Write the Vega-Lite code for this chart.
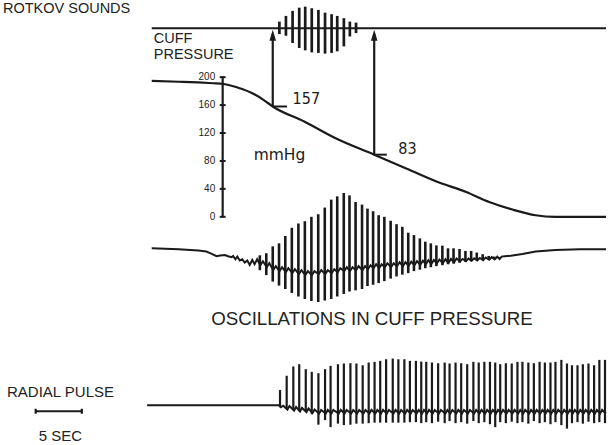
{
  "$schema": "https://vega.github.io/schema/vega-lite/v6.json",
  "width": 611,
  "height": 445,
  "padding": 0,
  "autosize": {"type": "fit", "contains": "padding"},
  "background": "white",
  "config": {"view": {"stroke": null}},
  "datasets": {
    "cuff": [
      {"t": 0.32, "v": 194.6}, {"t": 3.23, "v": 193.4}, {"t": 5.38, "v": 192.4}, {"t": 6.99, "v": 191.3},
      {"t": 7.99, "v": 190.6}, {"t": 9.68, "v": 184.9}, {"t": 11.11, "v": 177.8}, {"t": 12.55, "v": 166.5},
      {"t": 13.44, "v": 158}, {"t": 16.85, "v": 136.5}, {"t": 20.43, "v": 111.4}, {"t": 24.44, "v": 89},
      {"t": 27.6, "v": 71.1}, {"t": 31.18, "v": 50.6}, {"t": 34.41, "v": 35.5}, {"t": 36.91, "v": 21.3},
      {"t": 39.43, "v": 10.4}, {"t": 41.94, "v": 2.2}, {"t": 44.09, "v": 0}, {"t": 49.57, "v": 0}
    ],
    "hlines": [
      {"t": 0.32, "t2": 49.57, "v": 270},
      {"t": 13.44, "t2": 14.98, "v": 158},
      {"t": 24.44, "t2": 25.81, "v": 89},
      {"t": 7.69, "t2": 8.33, "v": 0},
      {"t": 7.69, "t2": 8.33, "v": 40},
      {"t": 7.69, "t2": 8.33, "v": 80},
      {"t": 7.69, "t2": 8.33, "v": 120},
      {"t": 7.69, "t2": 8.33, "v": 160},
      {"t": 7.69, "t2": 8.33, "v": 200},
      {"t": -12.26, "t2": -7.26, "v": -278.4}
    ],
    "vlines": [
      {"t": 13.44, "v": 158, "v2": 262},
      {"t": 24.44, "v": 89, "v2": 262},
      {"t": 8.01, "v": -0.7, "v2": 200.7},
      {"t": -12.26, "v": -274.9, "v2": -282.0},
      {"t": -7.26, "v": -274.9, "v2": -282.0}
    ],
    "heads": [{"t": 13.44, "v": 260}, {"t": 24.44, "v": 260}],
    "sounds": [
      {"t": 14.16, "v": 279.6, "v2": 261.7}, {"t": 14.87, "v": 287.7, "v2": 259.3},
      {"t": 15.59, "v": 294.9, "v2": 248.9}, {"t": 16.31, "v": 299.5, "v2": 241.8},
      {"t": 16.96, "v": 301.0, "v2": 238.4}, {"t": 17.67, "v": 298.7, "v2": 235.5},
      {"t": 18.39, "v": 296.3, "v2": 234.7}, {"t": 19.11, "v": 292.4, "v2": 233.7},
      {"t": 19.82, "v": 290.2, "v2": 234.7}, {"t": 20.43, "v": 287.7, "v2": 237.0},
      {"t": 21.15, "v": 284.5, "v2": 244.1}, {"t": 21.80, "v": 279.6, "v2": 258.3},
      {"t": 22.47, "v": 278.2, "v2": 263.1}
    ],
    "osc": [
      {"t": 12.04, "v": -55.1, "v2": -76.4}, {"t": 12.74, "v": -52.2, "v2": -83.5},
      {"t": 13.44, "v": -42.3, "v2": -92.8}, {"t": 14.12, "v": -38.0, "v2": -98.5},
      {"t": 14.80, "v": -27.4, "v2": -103.4}, {"t": 15.51, "v": -15.7, "v2": -109.1},
      {"t": 16.22, "v": -9.6, "v2": -114.1}, {"t": 16.92, "v": -6.3, "v2": -117.7},
      {"t": 17.63, "v": 0.0, "v2": -120.6}, {"t": 18.37, "v": 3.7, "v2": -122.0},
      {"t": 19.08, "v": 13.2, "v2": -119.9}, {"t": 19.78, "v": 24.6, "v2": -117.7},
      {"t": 20.43, "v": 29.3, "v2": -114.1}, {"t": 21.14, "v": 34.1, "v2": -110.5},
      {"t": 21.76, "v": 30.7, "v2": -106.9}, {"t": 22.42, "v": 21.3, "v2": -105.3},
      {"t": 23.12, "v": 17.5, "v2": -103.4}, {"t": 23.71, "v": 11.8, "v2": -99.2},
      {"t": 24.32, "v": 8.0, "v2": -97.3}, {"t": 24.92, "v": 2.3, "v2": -94.9},
      {"t": 25.54, "v": 0.0, "v2": -92.1}, {"t": 26.22, "v": -5.7, "v2": -88.5},
      {"t": 26.86, "v": -10.6, "v2": -85.4}, {"t": 27.49, "v": -14.3, "v2": -82.8},
      {"t": 28.13, "v": -22.8, "v2": -80.7}, {"t": 28.75, "v": -26.2, "v2": -77.8},
      {"t": 29.39, "v": -30.9, "v2": -75.7}, {"t": 29.98, "v": -35.6, "v2": -73.6},
      {"t": 30.58, "v": -38.0, "v2": -72.2}, {"t": 31.18, "v": -40.9, "v2": -70.7},
      {"t": 31.83, "v": -41.3, "v2": -69.3}, {"t": 32.44, "v": -45.1, "v2": -67.9},
      {"t": 33.04, "v": -45.1, "v2": -66.9}, {"t": 33.69, "v": -46.1, "v2": -65.8},
      {"t": 34.33, "v": -48.9, "v2": -64.4}, {"t": 34.95, "v": -48.9, "v2": -63.7},
      {"t": 35.56, "v": -51.2, "v2": -62.7}, {"t": 36.20, "v": -53.6, "v2": -61.8},
      {"t": 36.85, "v": -56.0, "v2": -60.8}, {"t": 37.45, "v": -56.9, "v2": -60.5},
      {"t": 37.99, "v": -57.9, "v2": -60.1}
    ],
    "oscBase": [
      {"t": 0.32, "v": -45.1}, {"t": 3.23, "v": -46.3}, {"t": 5.38, "v": -48.4}, {"t": 6.24, "v": -49.8},
      {"t": 6.77, "v": -52.6}, {"t": 7.34, "v": -56.5}, {"t": 7.74, "v": -55.3}, {"t": 8.25, "v": -54.7},
      {"t": 8.60, "v": -56.5}, {"t": 8.96, "v": -57.9}, {"t": 9.14, "v": -56.1}, {"t": 9.39, "v": -60.8},
      {"t": 9.60, "v": -56.9}, {"t": 9.86, "v": -62.6}, {"t": 10.14, "v": -60.8}, {"t": 10.40, "v": -65.5},
      {"t": 10.68, "v": -62.6}, {"t": 10.94, "v": -68.9}, {"t": 11.22, "v": -61.8}, {"t": 11.47, "v": -67.9},
      {"t": 11.75, "v": -60.8},
      {"t": 12.09, "v": -69.3}, {"t": 12.37, "v": -63.6}, {"t": 12.79, "v": -72.1}, {"t": 13.07, "v": -66.5},
      {"t": 13.49, "v": -76.4}, {"t": 13.77, "v": -70.7}, {"t": 14.17, "v": -77.8}, {"t": 14.45, "v": -72.1},
      {"t": 14.85, "v": -79.3}, {"t": 15.13, "v": -73.6}, {"t": 15.56, "v": -80.7}, {"t": 15.84, "v": -75.0},
      {"t": 16.27, "v": -82.1}, {"t": 16.55, "v": -76.4}, {"t": 16.97, "v": -83.5}, {"t": 17.25, "v": -77.8},
      {"t": 17.68, "v": -83.5}, {"t": 17.96, "v": -77.8}, {"t": 18.42, "v": -82.1}, {"t": 18.70, "v": -76.4},
      {"t": 19.13, "v": -82.1}, {"t": 19.41, "v": -76.4}, {"t": 19.83, "v": -80.7}, {"t": 20.11, "v": -75.0},
      {"t": 20.48, "v": -79.3}, {"t": 20.76, "v": -73.6}, {"t": 21.19, "v": -77.8}, {"t": 21.47, "v": -72.1},
      {"t": 21.81, "v": -77.8}, {"t": 22.09, "v": -72.1}, {"t": 22.47, "v": -76.4}, {"t": 22.75, "v": -70.7},
      {"t": 23.17, "v": -76.4}, {"t": 23.45, "v": -70.7}, {"t": 23.76, "v": -75.0}, {"t": 24.04, "v": -69.3},
      {"t": 24.37, "v": -73.6}, {"t": 24.65, "v": -67.9}, {"t": 24.97, "v": -73.6}, {"t": 25.25, "v": -67.9},
      {"t": 25.59, "v": -72.1}, {"t": 25.87, "v": -66.5}, {"t": 26.27, "v": -72.1}, {"t": 26.55, "v": -66.5},
      {"t": 26.91, "v": -70.7}, {"t": 27.19, "v": -65.0}, {"t": 27.54, "v": -70.7}, {"t": 27.82, "v": -65.0},
      {"t": 28.18, "v": -70.0}, {"t": 28.46, "v": -64.3}, {"t": 28.80, "v": -69.3}, {"t": 29.08, "v": -63.6},
      {"t": 29.44, "v": -68.6}, {"t": 29.72, "v": -62.9}, {"t": 30.03, "v": -67.9}, {"t": 30.31, "v": -62.2},
      {"t": 30.63, "v": -67.5}, {"t": 30.91, "v": -61.8}, {"t": 31.23, "v": -66.9}, {"t": 31.51, "v": -61.2},
      {"t": 31.88, "v": -66.5}, {"t": 32.16, "v": -60.8}, {"t": 32.49, "v": -65.9}, {"t": 32.77, "v": -60.2},
      {"t": 33.09, "v": -65.5}, {"t": 33.37, "v": -59.8}, {"t": 33.74, "v": -64.0}, {"t": 34.02, "v": -60.3},
      {"t": 34.38, "v": -63.5}, {"t": 34.66, "v": -59.8}, {"t": 35.00, "v": -63.0}, {"t": 35.28, "v": -59.4},
      {"t": 35.61, "v": -62.6}, {"t": 35.89, "v": -58.9}, {"t": 36.25, "v": -62.0}, {"t": 36.53, "v": -58.3},
      {"t": 36.90, "v": -61.5}, {"t": 37.18, "v": -57.8}, {"t": 37.50, "v": -60.9}, {"t": 37.78, "v": -57.2},
      {"t": 38.04, "v": -60.5}, {"t": 38.25, "v": -57.0},
      {"t": 38.6, "v": -56.6}, {"t": 39.25, "v": -55.8}, {"t": 40.51, "v": -53.2}, {"t": 41.94, "v": -49.8},
      {"t": 44.09, "v": -47.5}, {"t": 46.77, "v": -46.5}, {"t": 49.57, "v": -46.5}
    ],
    "radial": [
      {"t": 14.23, "v": -248.1, "v2": -271.3}, {"t": 14.95, "v": -227.6, "v2": -274.1},
      {"t": 15.67, "v": -214.4, "v2": -275.6}, {"t": 16.31, "v": -211.1, "v2": -277.0},
      {"t": 17.02, "v": -218.2, "v2": -278.4}, {"t": 17.67, "v": -222.0, "v2": -282.7},
      {"t": 18.39, "v": -223.9, "v2": -297.7}, {"t": 19.11, "v": -218.2, "v2": -291.2},
      {"t": 19.71, "v": -213.4, "v2": -301.2}, {"t": 20.51, "v": -211.1, "v2": -296.2},
      {"t": 21.15, "v": -210.1, "v2": -298.4}, {"t": 21.86, "v": -209.7, "v2": -297.7},
      {"t": 22.51, "v": -210.1, "v2": -296.2}, {"t": 23.19, "v": -212.6, "v2": -296.2},
      {"t": 23.84, "v": -208.7, "v2": -295.5}, {"t": 24.48, "v": -207.7, "v2": -294.8},
      {"t": 25.09, "v": -206.3, "v2": -294.8}, {"t": 25.73, "v": -204.0, "v2": -294.8},
      {"t": 26.45, "v": -203.0, "v2": -294.8}, {"t": 27.06, "v": -204.0, "v2": -294.8},
      {"t": 27.71, "v": -204.0, "v2": -294.8}, {"t": 28.31, "v": -206.3, "v2": -294.1},
      {"t": 28.96, "v": -206.3, "v2": -294.1}, {"t": 29.54, "v": -207.3, "v2": -295.5},
      {"t": 30.08, "v": -207.7, "v2": -294.1}, {"t": 30.70, "v": -208.7, "v2": -295.5},
      {"t": 31.37, "v": -209.7, "v2": -293.4}, {"t": 32.08, "v": -208.7, "v2": -295.5},
      {"t": 32.61, "v": -210.1, "v2": -292.6}, {"t": 33.26, "v": -208.7, "v2": -295.5},
      {"t": 33.87, "v": -209.7, "v2": -294.1}, {"t": 34.52, "v": -211.1, "v2": -296.2},
      {"t": 35.19, "v": -207.7, "v2": -292.6}, {"t": 35.77, "v": -208.7, "v2": -295.5},
      {"t": 36.38, "v": -207.7, "v2": -294.1}, {"t": 36.99, "v": -207.7, "v2": -297.0},
      {"t": 37.56, "v": -208.7, "v2": -301.2}, {"t": 38.10, "v": -211.1, "v2": -294.1},
      {"t": 38.71, "v": -209.7, "v2": -295.5}, {"t": 39.35, "v": -210.1, "v2": -293.4},
      {"t": 39.97, "v": -207.7, "v2": -295.5}, {"t": 40.51, "v": -207.7, "v2": -294.1},
      {"t": 41.15, "v": -208.7, "v2": -296.2}, {"t": 41.75, "v": -209.7, "v2": -292.6},
      {"t": 42.37, "v": -207.7, "v2": -295.5}, {"t": 42.94, "v": -208.7, "v2": -294.1},
      {"t": 43.55, "v": -208.7, "v2": -297.0}, {"t": 44.09, "v": -207.7, "v2": -294.1},
      {"t": 44.73, "v": -204.9, "v2": -298.4}, {"t": 45.34, "v": -210.1, "v2": -303.3},
      {"t": 45.88, "v": -212.6, "v2": -295.5}, {"t": 46.48, "v": -212.6, "v2": -294.1},
      {"t": 47.06, "v": -211.1, "v2": -296.2}, {"t": 47.67, "v": -210.1, "v2": -293.4},
      {"t": 48.28, "v": -212.6, "v2": -295.5}, {"t": 48.85, "v": -204.9, "v2": -294.1},
      {"t": 49.46, "v": -204.9, "v2": -295.5}
    ],
    "radialBase": [
      {"t": -0.18, "v": -269.9}, {"t": 14.09, "v": -269.9},
      {"t": 14.31, "v": -272.7}, {"t": 14.58, "v": -270.6}, {"t": 15.03, "v": -276.1}, {"t": 15.25, "v": -271.0},
      {"t": 15.75, "v": -277.5}, {"t": 15.97, "v": -272.4}, {"t": 16.39, "v": -278.8}, {"t": 16.61, "v": -273.7},
      {"t": 17.10, "v": -279.6}, {"t": 17.32, "v": -274.5}, {"t": 17.75, "v": -281.0}, {"t": 17.97, "v": -275.9},
      {"t": 18.47, "v": -281.7}, {"t": 18.69, "v": -276.6}, {"t": 19.19, "v": -281.7}, {"t": 19.41, "v": -276.6},
      {"t": 19.79, "v": -281.7}, {"t": 20.01, "v": -276.6}, {"t": 20.59, "v": -281.7}, {"t": 20.81, "v": -276.6},
      {"t": 21.23, "v": -281.7}, {"t": 21.45, "v": -276.6}, {"t": 21.94, "v": -281.7}, {"t": 22.16, "v": -276.6},
      {"t": 22.59, "v": -281.7}, {"t": 22.81, "v": -276.6}, {"t": 23.27, "v": -281.7}, {"t": 23.49, "v": -276.6},
      {"t": 23.92, "v": -281.7}, {"t": 24.14, "v": -276.6}, {"t": 24.56, "v": -281.7}, {"t": 24.78, "v": -276.6},
      {"t": 25.17, "v": -281.7}, {"t": 25.39, "v": -276.6}, {"t": 25.81, "v": -281.7}, {"t": 26.03, "v": -276.6},
      {"t": 26.53, "v": -281.7}, {"t": 26.75, "v": -276.6}, {"t": 27.14, "v": -281.7}, {"t": 27.36, "v": -276.6},
      {"t": 27.79, "v": -281.7}, {"t": 28.01, "v": -276.6}, {"t": 28.39, "v": -281.7}, {"t": 28.61, "v": -276.6},
      {"t": 29.04, "v": -281.7}, {"t": 29.26, "v": -276.6}, {"t": 29.62, "v": -281.7}, {"t": 29.84, "v": -276.6},
      {"t": 30.16, "v": -281.7}, {"t": 30.38, "v": -276.6}, {"t": 30.78, "v": -281.7}, {"t": 31.00, "v": -276.6},
      {"t": 31.45, "v": -281.7}, {"t": 31.67, "v": -276.6}, {"t": 32.16, "v": -281.7}, {"t": 32.38, "v": -276.6},
      {"t": 32.69, "v": -281.7}, {"t": 32.91, "v": -276.6}, {"t": 33.34, "v": -281.7}, {"t": 33.56, "v": -276.6},
      {"t": 33.95, "v": -281.7}, {"t": 34.17, "v": -276.6}, {"t": 34.60, "v": -281.7}, {"t": 34.82, "v": -276.6},
      {"t": 35.27, "v": -281.7}, {"t": 35.49, "v": -276.6}, {"t": 35.85, "v": -281.7}, {"t": 36.07, "v": -276.6},
      {"t": 36.46, "v": -281.7}, {"t": 36.68, "v": -276.6}, {"t": 37.07, "v": -281.7}, {"t": 37.29, "v": -276.6},
      {"t": 37.64, "v": -281.7}, {"t": 37.86, "v": -276.6}, {"t": 38.18, "v": -281.7}, {"t": 38.40, "v": -276.6},
      {"t": 38.79, "v": -281.7}, {"t": 39.01, "v": -276.6}, {"t": 39.43, "v": -281.7}, {"t": 39.65, "v": -276.6},
      {"t": 40.05, "v": -281.7}, {"t": 40.27, "v": -276.6}, {"t": 40.59, "v": -281.7}, {"t": 40.81, "v": -276.6},
      {"t": 41.23, "v": -281.7}, {"t": 41.45, "v": -276.6}, {"t": 41.83, "v": -281.7}, {"t": 42.05, "v": -276.6},
      {"t": 42.45, "v": -281.7}, {"t": 42.67, "v": -276.6}, {"t": 43.02, "v": -281.7}, {"t": 43.24, "v": -276.6},
      {"t": 43.63, "v": -281.7}, {"t": 43.85, "v": -276.6}, {"t": 44.17, "v": -281.7}, {"t": 44.39, "v": -276.6},
      {"t": 44.81, "v": -281.7}, {"t": 45.03, "v": -276.6}, {"t": 45.42, "v": -281.7}, {"t": 45.64, "v": -276.6},
      {"t": 45.96, "v": -281.7}, {"t": 46.18, "v": -276.6}, {"t": 46.56, "v": -281.7}, {"t": 46.78, "v": -276.6},
      {"t": 47.14, "v": -281.7}, {"t": 47.36, "v": -276.6}, {"t": 47.75, "v": -281.7}, {"t": 47.97, "v": -276.6},
      {"t": 48.36, "v": -281.7}, {"t": 48.58, "v": -276.6}, {"t": 48.93, "v": -281.7}, {"t": 49.15, "v": -276.6},
      {"t": 49.54, "v": -281.7}
    ],
    "labelsLeft": [
      {"t": -15.81, "v": 297.4, "label": "ROTKOV SOUNDS"},
      {"t": 0.54, "v": 254.3, "label": "CUFF"},
      {"t": 0.54, "v": 232.3, "label": "PRESSURE"}
    ],
    "labelsCenter": [
      {"t": -9.57, "v": -251.4, "label": "RADIAL PULSE"},
      {"t": -9.57, "v": -314.4, "label": "5 SEC"}
    ],
    "readings": [
      {"t": 15.59, "v": 168.7, "label": "157"},
      {"t": 27.06, "v": 97.1, "label": "83"}
    ],
    "ticks": [
      {"t": 7.2, "v": 0, "label": "0"},
      {"t": 7.2, "v": 40, "label": "40"},
      {"t": 7.2, "v": 80, "label": "80"},
      {"t": 7.2, "v": 120, "label": "120"},
      {"t": 7.2, "v": 160, "label": "160"},
      {"t": 7.2, "v": 200, "label": "200"}
    ]
  },
  "encoding": {
    "x": {"field": "t", "type": "quantitative", "scale": {"domain": [-16.13, 49.57], "nice": false, "zero": false}, "axis": null},
    "y": {"field": "v", "type": "quantitative", "scale": {"domain": [-322.5, 310.5], "nice": false, "zero": false}, "axis": null}
  },
  "layer": [
    {
      "data": {"name": "hlines"},
      "mark": {"type": "rule", "color": "#1a1a1a", "strokeWidth": 2},
      "encoding": {"x2": {"field": "t2"}}
    },
    {
      "data": {"name": "vlines"},
      "mark": {"type": "rule", "color": "#1a1a1a", "strokeWidth": 2.2},
      "encoding": {"y2": {"field": "v2"}}
    },
    {
      "data": {"name": "heads"},
      "mark": {"type": "point", "shape": "M0,-1L-0.6,1L0.6,1Z", "size": 121, "filled": true, "color": "#1a1a1a", "opacity": 1}
    },
    {
      "data": {"name": "sounds"},
      "mark": {"type": "rule", "color": "#1a1a1a", "strokeWidth": 2.7},
      "encoding": {"y2": {"field": "v2"}}
    },
    {
      "data": {"name": "cuff"},
      "mark": {"type": "line", "color": "#1a1a1a", "strokeWidth": 2.2, "interpolate": "monotone"}
    },
    {
      "data": {"name": "oscBase"},
      "mark": {"type": "line", "color": "#1a1a1a", "strokeWidth": 2}
    },
    {
      "data": {"name": "osc"},
      "mark": {"type": "rule", "color": "#1a1a1a", "strokeWidth": 2.6},
      "encoding": {"y2": {"field": "v2"}}
    },
    {
      "data": {"name": "radialBase"},
      "mark": {"type": "line", "color": "#1a1a1a", "strokeWidth": 2}
    },
    {
      "data": {"name": "radial"},
      "mark": {"type": "rule", "color": "#1a1a1a", "strokeWidth": 2.2},
      "encoding": {"y2": {"field": "v2"}}
    },
    {
      "data": {"name": "labelsLeft"},
      "mark": {"type": "text", "align": "left", "baseline": "middle", "font": "Liberation Sans", "fontSize": 14.5, "color": "#222"},
      "encoding": {"text": {"field": "label"}}
    },
    {
      "data": {"name": "labelsCenter"},
      "mark": {"type": "text", "align": "center", "baseline": "middle", "font": "Liberation Sans", "fontSize": 15, "color": "#222"},
      "encoding": {"text": {"field": "label"}}
    },
    {
      "data": {"values": [{"t": 24.19, "v": -146.1, "label": "OSCILLATIONS IN CUFF PRESSURE"}]},
      "mark": {"type": "text", "align": "center", "baseline": "middle", "font": "Liberation Sans", "fontSize": 18.7, "color": "#222"},
      "encoding": {"text": {"field": "label"}}
    },
    {
      "data": {"values": [{"t": 11.37, "v": 89.0, "label": "mmHg"}]},
      "mark": {"type": "text", "align": "left", "baseline": "middle", "font": "DejaVu Sans", "fontSize": 15.5, "color": "#1a1a1a"},
      "encoding": {"text": {"field": "label"}}
    },
    {
      "data": {"name": "readings"},
      "mark": {"type": "text", "align": "left", "baseline": "middle", "font": "Liberation Sans Narrow, DejaVu Sans Condensed, sans-serif", "fontSize": 16, "color": "#1a1a1a"},
      "encoding": {"text": {"field": "label"}}
    },
    {
      "data": {"name": "ticks"},
      "mark": {"type": "text", "align": "right", "baseline": "middle", "font": "Liberation Sans", "fontSize": 10, "color": "#222"},
      "encoding": {"text": {"field": "label"}}
    }
  ]
}
